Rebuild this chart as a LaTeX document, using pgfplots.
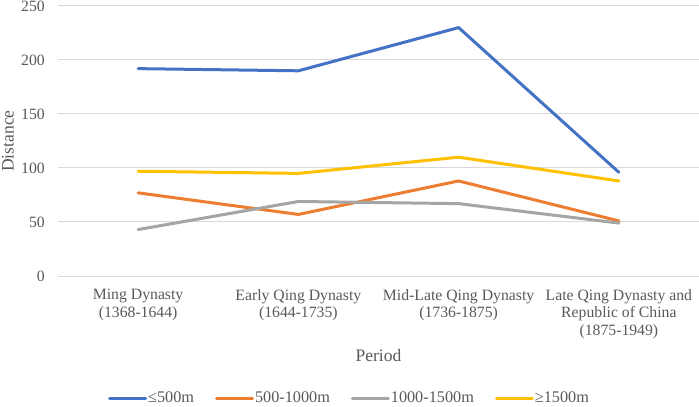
\documentclass[border=0pt]{standalone}
\usepackage{fontspec}
\setmainfont{Liberation Serif}
\usepackage{pgfplots}
\pgfplotsset{compat=1.18}
\definecolor{cblue}{HTML}{4472C4}
\definecolor{corange}{HTML}{ED7D31}
\definecolor{cgray}{HTML}{A5A5A5}
\definecolor{cyellow}{HTML}{FFC000}
\definecolor{ctext}{HTML}{595959}
\definecolor{cgrid}{HTML}{D9D9D9}
\begin{document}
\fontsize{15.8}{17.8}\selectfont
\begin{tikzpicture}
\useasboundingbox (0bp,0bp) rectangle (699bp,407bp);
\begin{axis}[
  at={(58bp,131bp)}, anchor=south west,
  scale only axis, width=641bp, height=270bp,
  xmin=-0.5, xmax=3.5, ymin=0, ymax=250,
  xtick={0,1,2,3},
  xticklabels={{Ming Dynasty\\(1368-1644)},{Early Qing Dynasty\\(1644-1735)},{Mid-Late Qing Dynasty\\(1736-1875)},{Late Qing Dynasty and\\Republic of China\\(1875-1949)}},
  ytick={0,50,100,150,200,250},
  axis line style={draw=none},
  major tick length=0pt,
  ymajorgrids,
  grid style={color=cgrid, line width=1bp},
  /pgf/number format/assume math mode=true,
  tick label style={font=\fontsize{15.8}{17.8}\selectfont, text=ctext},
  xticklabel style={align=center, anchor=north, inner sep=0pt, yshift=-13bp},
  yticklabel style={anchor=east, inner sep=0pt, xshift=-13bp},
  xlabel={Period},
  ylabel={Distance},
  every axis x label/.style={at={(axis description cs:0.5,-0.296)}, anchor=center, font=\fontsize{17.6}{19}\selectfont, text=ctext},
  every axis y label/.style={at={(axis description cs:-0.078,0.5)}, anchor=center, rotate=90, font=\fontsize{17.6}{19}\selectfont, text=ctext},
  legend style={at={(0.454,-0.452)}, anchor=center, draw=none, fill=none,
    legend columns=4, font=\fontsize{16.3}{18}\selectfont, text=ctext,
    /tikz/every even column/.append style={column sep=20bp},
    nodes={inner sep=1bp}},
  legend image code/.code={\draw[#1, line width=3bp] (0bp,0bp) -- (36bp,0bp);},
  every axis plot/.append style={line width=3bp, line join=round, line cap=round, mark=none},
  clip=false,
]
\addplot[color=cblue] coordinates {(0,192) (1,190) (2,230) (3,96)};
\addlegendentry{≤500m}
\addplot[color=corange] coordinates {(0,77) (1,57) (2,88) (3,51)};
\addlegendentry{500-1000m}
\addplot[color=cgray] coordinates {(0,43) (1,69) (2,67) (3,49)};
\addlegendentry{1000-1500m}
\addplot[color=cyellow] coordinates {(0,97) (1,95) (2,110) (3,88)};
\addlegendentry{≥1500m}
\end{axis}
\end{tikzpicture}
\end{document}
